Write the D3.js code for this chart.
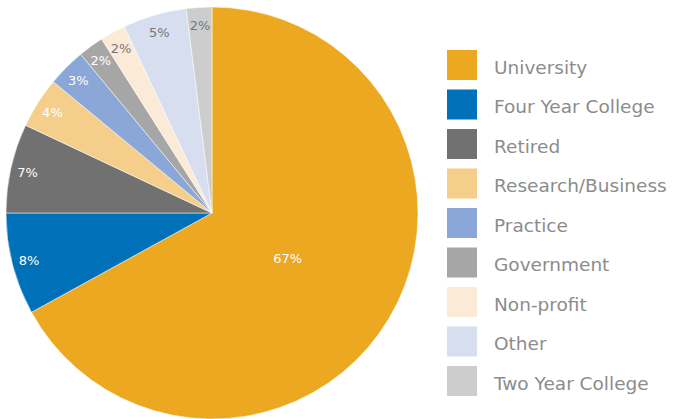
<!DOCTYPE html>
<html>
<head>
<meta charset="utf-8">
<script src="https://cdn.jsdelivr.net/npm/d3@7"></script>
<style>
  body { margin: 0; background: #fff; }
  svg { display: block; }
</style>
</head>
<body>
<div id="chart"></div>
<script>
// chart data
var categories = ['University', 'Four Year College', 'Retired', 'Research/Business', 'Practice',
                  'Government', 'Non-profit', 'Other', 'Two Year College'];
var values = [67, 8, 7, 4, 3, 2, 2, 5, 2];
var colors = ['#eca820', '#0070b8', '#717171', '#f5ce8b', '#8aa7d7',
              '#a7a6a7', '#fbebd6', '#d6def0', '#cecdce'];
var labelColors = ['#fff', '#fff', '#fff', '#fff', '#fff', '#fff', '#777', '#777', '#777'];

var width = 684, height = 419;
var cx = 212, cy = 213, radius = 206;

var svg = d3.select('#chart')
  .append('svg')
    .attr('width', width)
    .attr('height', height);

var data = categories.map(function(c, i) { return {name: c, value: values[i], color: colors[i], lc: labelColors[i]}; });

var pie = d3.pie()
  .sort(null)
  .value(function(d) { return d.value; });

var arc = d3.arc().innerRadius(0).outerRadius(radius);

var g = svg.append('g')
  .attr('transform', 'translate(' + cx + ',' + cy + ')');

var slices = pie(data);

g.selectAll('path')
  .data(slices)
  .enter()
  .append('path')
    .attr('d', arc)
    .attr('fill', function(d) { return d.data.color; })
    .attr('stroke', '#fff')
    .attr('stroke-width', 0.5);

// big slice label sits inside, small ones near the rim
g.selectAll('text.lbl')
  .data(slices)
  .enter()
  .append('text')
    .attr('class', 'lbl')
    .attr('transform', function(d) {
      var r = d.data.value > 50 ? 88 : 189;
      var la = d3.arc().innerRadius(r).outerRadius(r);
      return 'translate(' + la.centroid(d) + ')';
    })
    .attr('text-anchor', 'middle')
    .attr('dy', '0.4em')
    .style('font-family', 'DejaVu Sans')
    .style('font-size', '13px')
    .style('fill', function(d) { return d.data.lc; })
    .text(function(d) { return d.data.value + '%'; });

// legend
var legend = svg.append('g')
  .attr('transform', 'translate(447,50)');

var item = legend.selectAll('g')
  .data(data)
  .enter()
  .append('g')
    .attr('transform', function(d, i) { return 'translate(0,' + (i * 39.5) + ')'; });

item.append('rect')
  .attr('width', 30)
  .attr('height', 30)
  .attr('fill', function(d) { return d.color; });

item.append('text')
  .attr('x', 47)
  .attr('y', 23.5)
  .style('font-family', 'DejaVu Sans')
  .style('font-size', '18.5px')
  .style('fill', '#8c8c8c')
  .text(function(d) { return d.name; });
</script>
</body>
</html>
